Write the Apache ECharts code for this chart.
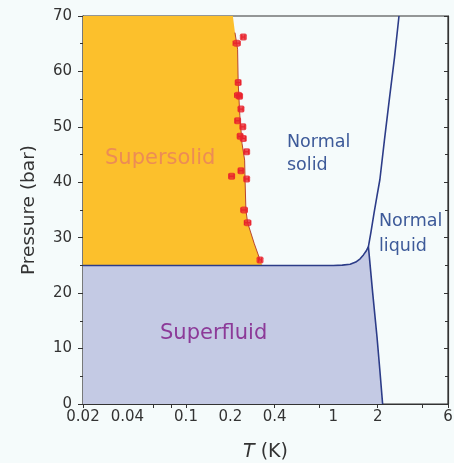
<!DOCTYPE html>
<html>
<head>
<meta charset="utf-8">
<script src="https://cdn.jsdelivr.net/npm/echarts@6/dist/echarts.min.js"></script>
<style>
html,body{margin:0;padding:0;background:#f5fbfb;}
#chart{width:454px;height:463px;}
</style>
</head>
<body>
<div id="chart"></div>
<script>
// Tick labels / tick positions (T in K, P in bar)
const xLabelValues = [0.02, 0.04, 0.1, 0.2, 0.4, 1, 2, 6];
const xTickValues = [0.02, 0.06, 0.08, 0.1, 0.4, 0.8, 2, 4, 6];

// Melting curve (superfluid / normal liquid / solid boundaries)
const meltT = [0.02, 1.0, 1.15, 1.3, 1.42, 1.52, 1.6, 1.67, 1.73, 1.8, 1.89, 1.98, 2.07, 2.22, 2.4, 2.6, 2.79];
const meltP = [25, 25, 25.05, 25.2, 25.6, 26.2, 26.9, 27.6, 28.4, 31, 34.5, 37.6, 40.5, 47.5, 55, 62.5, 70];

// Lambda line
const lambdaT = [1.73, 1.85, 1.98, 2.07, 2.16];
const lambdaP = [28.4, 20, 12, 6, 0];

// Supersolid onset line (through data)
const onsetT = [0.208, 0.215, 0.224, 0.226, 0.232, 0.24, 0.25, 0.252, 0.255, 0.262, 0.29, 0.318, 0.33];
const onsetP = [70, 67, 64, 58, 52, 47, 44, 40, 35, 32.7, 29, 26, 25];

// Measured points
const ptT = [0.245, 0.221, 0.226, 0.226, 0.231, 0.236, 0.224, 0.243, 0.233, 0.245, 0.258, 0.236, 0.204, 0.258, 0.248, 0.262, 0.318];
const ptP = [66.2, 65.1, 58.0, 55.7, 55.5, 53.2, 51.1, 50.0, 48.3, 47.9, 45.5, 42.1, 41.1, 40.6, 35.0, 32.7, 26.0];
const ptErr = [0.006, 0.012, 0.008, 0.012, 0.008, 0.008, 0.008, 0.008, 0.008, 0.008, 0.008, 0.008, 0.008, 0.008, 0.012, 0.013, 0.008];

const zip = (a, b) => a.map((v, i) => [v, b[i]]);

// Superfluid region polygon: melting curve up to junction, lambda line down, then P=0
const sfIdx = meltT.indexOf(1.73);
const sfT = [0.02].concat(meltT.slice(0, sfIdx + 1), lambdaT.slice(1));
const sfP = [0].concat(meltP.slice(0, sfIdx + 1), lambdaP.slice(1));
// Supersolid region polygon
const ssT = [0.02, 0.02].concat(onsetT);
const ssP = [25, 70].concat(onsetP);

const chart = echarts.init(document.getElementById('chart'));
const fmt = v => String(parseFloat(Number(v).toPrecision(3)));
const FONT = 'DejaVu Sans';
const polySeries = (T, P, color, z) => ({
  type: 'custom',
  z: z,
  silent: true,
  data: [[1, 1]],
  renderItem: function (params, api) {
    const pts = T.map((t, i) => api.coord([t, P[i]]));
    return { type: 'polygon', shape: { points: pts }, style: { fill: color } };
  }
});

chart.setOption({
  backgroundColor: '#f5fbfb',
  animation: false,
  grid: {
    left: 83, right: 6, top: 16, bottom: 59, containLabel: false, outerBoundsMode: 'none',
    show: true, borderColor: '#333', borderWidth: 1.2
  },
  xAxis: {
    type: 'log', logBase: 10, min: 0.02, max: 6,
    name: '{i|T} (K)', nameLocation: 'middle', nameGap: 39,
    nameTextStyle: {
      fontFamily: FONT, fontSize: 19, color: '#333',
      rich: { i: { fontFamily: FONT, fontSize: 19, fontStyle: 'italic', color: '#333' } }
    },
    axisLine: { show: true, onZero: false, lineStyle: { color: '#333', width: 1.2 } },
    axisTick: { show: true, inside: false, length: 4, customValues: xTickValues, lineStyle: { color: '#333' } },
    minorTick: { show: false },
    splitLine: { show: false },
    axisLabel: {
      customValues: xLabelValues, formatter: fmt, margin: 6,
      fontFamily: FONT, fontSize: 15, color: '#333'
    }
  },
  yAxis: [{
    type: 'value', min: 0, max: 70, interval: 10,
    name: 'Pressure (bar)', nameLocation: 'middle', nameGap: 44, nameRotate: 90,
    nameTextStyle: { fontFamily: FONT, fontSize: 18.5, color: '#333' },
    axisLine: { show: true, lineStyle: { color: '#333', width: 1.2 } },
    axisTick: { show: true, inside: false, length: 5, lineStyle: { color: '#333' } },
    minorTick: { show: true, splitNumber: 2, length: 3, lineStyle: { color: '#333' } },
    splitLine: { show: false },
    axisLabel: { margin: 11, fontFamily: FONT, fontSize: 15, color: '#333' }
  }, {
    type: 'value', min: 0, max: 70, interval: 10, position: 'right',
    axisLine: { show: true, lineStyle: { color: '#333', width: 1.2 } },
    axisTick: { show: true, inside: true, length: 4, lineStyle: { color: '#333' } },
    minorTick: { show: true, splitNumber: 2, length: 3, lineStyle: { color: '#333' } },
    splitLine: { show: false },
    axisLabel: { show: false }
  }],
  series: [
    polySeries(ssT, ssP, '#fcc02c', 1),
    polySeries(sfT, sfP, '#c4cae4', 2),
    {
      type: 'line', data: zip(meltT, meltP), showSymbol: false, smooth: false, z: 5,
      lineStyle: { color: '#2c3c88', width: 1.6, join: 'round' }
    },
    {
      type: 'line', data: zip(lambdaT, lambdaP), showSymbol: false, z: 5,
      lineStyle: { color: '#2c3c88', width: 1.6 }
    },
    {
      type: 'line', data: zip(onsetT.slice(1, 12), onsetP.slice(1, 12)), showSymbol: false, z: 6,
      lineStyle: { color: '#b8452e', width: 1 }
    },
    {
      type: 'custom', z: 7, silent: true,
      data: ptT.map((t, i) => [t, ptP[i], ptErr[i]]),
      renderItem: function (params, api) {
        const t = api.value(0), p = api.value(1), e = api.value(2);
        const a = api.coord([t - e, p]), b = api.coord([t + e, p]);
        return {
          type: 'group', children: [
            { type: 'line', shape: { x1: a[0], y1: a[1], x2: b[0], y2: b[1] }, style: { stroke: '#e8232d', lineWidth: 1.2 } },
            { type: 'line', shape: { x1: a[0], y1: a[1] - 2.5, x2: a[0], y2: a[1] + 2.5 }, style: { stroke: '#e8232d', lineWidth: 1.2 } },
            { type: 'line', shape: { x1: b[0], y1: b[1] - 2.5, x2: b[0], y2: b[1] + 2.5 }, style: { stroke: '#e8232d', lineWidth: 1.2 } }
          ]
        };
      }
    },
    {
      type: 'scatter', data: zip(ptT, ptP), symbol: 'roundRect', symbolSize: 7, z: 8,
      itemStyle: { color: '#e8232d' }
    }
  ],
  graphic: [
    { type: 'text', left: 105, top: 148, style: { text: 'Supersolid', fontFamily: FONT, fontSize: 21, fill: '#ec8c55' }, z: 20 },
    { type: 'text', left: 160, top: 323, style: { text: 'Superfluid', fontFamily: FONT, fontSize: 21, fill: '#8c3a98' }, z: 20 },
    { type: 'text', left: 287, top: 131, style: { text: 'Normal\nsolid', fontFamily: FONT, fontSize: 17.5, lineHeight: 23, fill: '#3d5a99' }, z: 20 },
    { type: 'text', left: 379, top: 209, style: { text: 'Normal\nliquid', fontFamily: FONT, fontSize: 17.5, lineHeight: 25, fill: '#3d5a99' }, z: 20 }
  ]
});
</script>
</body>
</html>
